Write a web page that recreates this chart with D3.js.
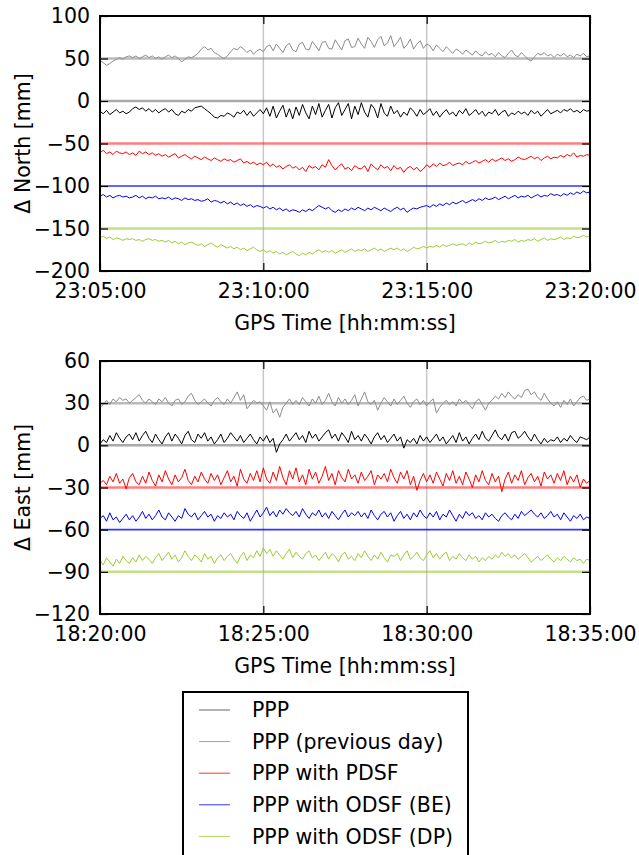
<!DOCTYPE html>
<html>
<head>
<meta charset="utf-8">
<script src="https://cdn.jsdelivr.net/npm/d3@7"></script>
<style>
  body { margin: 0; background: #fff; }
  text { font-family: "DejaVu Sans", sans-serif; fill: #000; }
</style>
</head>
<body>
<script>
const w = 639;
const h = 855;
const fontSize = 20.5;

// series names + colours (legend order)
const seriesNames = ["PPP", "PPP (previous day)", "PPP with PDSF", "PPP with ODSF (BE)", "PPP with ODSF (DP)"];
const seriesColors = ["#000000", "#8c8c8c", "#ff0000", "#0000ff", "#9acd32"];

// each series is shifted by an offset so they don't overlap
const offsetsNorth = [0, 50, -50, -100, -150];
const offsetsEast = [0, 30, -30, -60, -90];

const stepSec = 6; // one value every 6 s, 15 minutes

const yTicksNorth = [-200, -150, -100, -50, 0, 50, 100];
const yTicksEast = [-120, -90, -60, -30, 0, 30, 60];

// North deviations [mm]
const northPPP = [
  -12, -15, -11, -16, -13, -10, -14, -12, -15, -13,
  -9, -7, -10, -8, -12, -9, -13, -10, -14, -11,
  -9, -13, -10, -15, -17, -12, -14, -10, -12, -8,
  -7, -6, -9, -12, -15, -19, -20, -17, -18, -14,
  -16, -19, -13, -15, -11, -17, -12, -18, -14, -10,
  -15, -8, -18, -6, -20, -12, -5, -19, -9, -21,
  -7, -17, -4, -14, -21, -6, -16, -3, -19, -11,
  -4, -20, -8, -2, -17, -10, -3, -21, -6, -16,
  -2, -13, -19, -4, -9, -20, -3, -14, -18, -6,
  -15, -11, -19, -13, -17, -8, -12, -18, -10, -16,
  -13, -9, -17, -12, -19, -14, -10, -16, -13, -18,
  -11, -15, -9, -17, -14, -10, -16, -12, -18, -13,
  -15, -10, -17, -13, -11, -18, -14, -16, -12, -15,
  -13, -17, -11, -15, -12, -18, -14, -10, -15, -13,
  -11, -14, -10, -12, -9, -13, -11, -14, -10, -12,
  -11
];
const northPrev = [
  -2, -5, -8, -6, -3, -1, 1, -1, 2, 3,
  1, 3, 0, 2, 4, 1, 3, 0, 2, -1,
  2, 4, 1, 3, 0, -4, -1, 2, 1, 3,
  6, 11, 14, 10, 12, 7, 5, 2, 0, 3,
  8, 12, 10, 14, 11, 7, 10, 5, 9, 11,
  8, 14, 16, 9, 17, 12, 7, 15, 18, 10,
  8, 17, 19, 11, 10, 20, 15, 9, 19, 20,
  12, 11, 22, 16, 10, 21, 23, 13, 14, 24,
  17, 12, 25, 20, 13, 22, 26, 15, 18, 27,
  14, 19, 25, 12, 16, 23, 11, 17, 21, 12,
  17, 15, 9, 16, 12, 8, 14, 10, 6, 11,
  9, 5, 10, 7, 4, 9, 5, 3, 8, 4,
  6, 2, 7, 3, 1, 6, 10, 4, 2, 7,
  3, -1, -3, 2, 6, 4, 7, 3, 5, 1,
  5, 3, 6, 2, 4, 1, 5, 3, 6, 2,
  3
];
const northPDSF = [
  -11, -8, -12, -10, -13, -9, -11, -12, -10, -13,
  -11, -14, -9, -12, -10, -13, -11, -14, -12, -15,
  -13, -16, -14, -12, -17, -15, -13, -16, -18, -15,
  -17, -19, -16, -18, -20, -17, -19, -21, -18, -20,
  -19, -22, -20, -18, -23, -21, -24, -22, -25, -23,
  -25, -22, -27, -24, -28, -26, -30, -27, -25, -29,
  -27, -31, -28, -33, -26, -29, -27, -31, -25, -28,
  -19, -26, -31, -27, -24, -30, -28, -32, -26, -29,
  -30, -26, -33, -24, -28, -31, -25, -29, -27, -32,
  -26, -30, -28, -34, -29, -27, -31, -28, -33, -30,
  -25, -28, -24, -27, -23, -26, -25, -22, -26, -24,
  -23, -25, -21, -24, -22, -20, -23, -21, -19, -22,
  -18, -21, -19, -17, -20, -18, -21, -19, -16, -18,
  -19, -17, -15, -18, -16, -20, -17, -15, -18, -16,
  -17, -14, -16, -13, -15, -11, -16, -14, -15, -13,
  -14
];
const northBE = [
  -12, -10, -13, -11, -14, -12, -11, -13, -12, -14,
  -13, -11, -14, -12, -15, -13, -14, -12, -15, -14,
  -15, -13, -16, -14, -15, -17, -14, -16, -15, -17,
  -16, -18, -17, -15, -19, -17, -18, -20, -18, -21,
  -19, -22, -20, -23, -21, -24, -22, -25, -23, -24,
  -26, -24, -27, -25, -28, -26, -29, -27, -30, -28,
  -29, -31, -28, -30, -27, -29, -26, -23, -25, -27,
  -25, -29, -31, -28, -30, -27, -29, -26, -28, -25,
  -27, -29, -26, -28, -25, -27, -29, -26, -28, -30,
  -27, -25, -28, -26, -31, -28, -26, -27, -25, -24,
  -23, -25, -22, -24, -21, -23, -20, -22, -19, -21,
  -19, -17, -20, -18, -16, -18, -15, -17, -14, -16,
  -15, -13, -16, -14, -12, -15, -13, -11, -14, -12,
  -13, -11, -14, -12, -10, -13, -11, -12, -9, -11,
  -10, -12, -9, -11, -8, -10, -7, -9, -6, -8,
  -7
];
const northDP = [
  -11, -9, -12, -10, -13, -11, -12, -14, -12, -13,
  -12, -14, -13, -15, -13, -12, -14, -13, -15, -14,
  -16, -14, -17, -15, -18, -16, -19, -17, -16, -18,
  -20, -18, -21, -19, -17, -20, -22, -19, -21, -23,
  -21, -24, -22, -25, -23, -26, -24, -22, -25, -27,
  -25, -28, -26, -29, -27, -30, -28, -31, -29, -27,
  -30, -32, -29, -31, -28, -30, -27, -25, -28, -26,
  -28, -26, -29, -27, -25, -28, -26, -24, -27, -25,
  -26, -24, -27, -25, -23, -26, -24, -27, -25, -23,
  -25, -23, -26, -24, -27, -25, -22, -24, -23, -21,
  -23, -21, -22, -20, -22, -19, -21, -20, -18, -20,
  -19, -18, -20, -17, -19, -16, -18, -17, -15, -17,
  -16, -14, -17, -15, -16, -14, -15, -13, -16, -14,
  -15, -13, -14, -12, -15, -13, -11, -14, -12, -13,
  -12, -10, -13, -11, -12, -9, -11, -10, -8, -10,
  -9
];

// East deviations [mm]
const eastPPP = [
  1, 4, 2, 7, 3, 9, 5, 2, 6, 8,
  4, 9, 3, 7, 10, 5, 2, 8, 4, 1,
  6, 9, 3, 8, 5, 1, 7, 10, 4, 2,
  8, 5, 9, 3, 6, 1, 4, 8, 2, 5,
  9, 6, 3, 7, 2, 5, 8, 4, 1, 6,
  3, 7, 2, 5, -5, 1, 4, 8, 3, 6,
  9, 4, 7, 2, 10, 5, 8, 3, 6, 9,
  11, 5, 8, 3, 9, 6, 2, 10, 4, 7,
  3, 8, 5, 1, 6, 9, 4, 7, 2, 5,
  8, 3, 6, -2, 4, 2, 5, 1, 7, 3,
  6, 2, 5, 8, 3, 6, 1, 4, 7, 2,
  9, 3, 6, 1, 5, 8, 4, 10, 5, 3,
  7, 11, 6, 4, 8, 3, 9, 10, 5, 7,
  10, 6, 3, 8, 4, 1, 5, 2, 4, 3,
  6, 2, 5, 3, 7, 4, 2, 6, 5, 4,
  6
];
const eastPrev = [
  -3, -1, 2, -1, 3, 1, 4, 2, 3, 0,
  2, 4, 6, 2, 0, 3, 1, -1, 3, 1,
  4, 0, -2, 2, 3, -1, 1, 5, 7, 2,
  -1, 1, 3, 0, -2, 2, 4, 1, -1, 3,
  0, 4, 8, 2, 6, -4, -1, 2, 0, 1,
  -2, -5, 1, -7, -4, -10, -3, 0, 3, -1,
  2, -1, 4, 1, -2, 3, 0, 5, -1, 2,
  7, 1, -2, 4, 0, 3, -1, 2, 6, -2,
  3, 8, 1, -1, 2, -5, 0, 4, 1, -2,
  3, -1, 2, 5, 0, -3, 1, 3, -1, 2,
  -2, 1, 3, -7, -3, 0, 2, -1, 1, -2,
  3, 0, 2, -1, -4, 1, 3, -1, -5, 0,
  2, 5, 3, 7, 4, 8, 5, 3, 6, 4,
  9, 10, 6, 8, 4, 2, 7, 3, 0, -2,
  1, -3, 2, -1, 3, -2, 1, 4, 5, 2,
  3
];
const eastPDSF = [
  3, 5, 2, 8, 4, 10, 3, 6, -1, 7,
  10, 4, 2, 8, 3, 11, 5, 1, 9, 4,
  12, 6, 2, 9, 4, 7, 13, 5, 2, 8,
  4, 11, 6, 3, 10, 5, 9, 2, 7, 12,
  4, 8, 1, 13, 6, 3, 10, 5, 12, 4,
  14, 6, 3, 11, 5, 15, 7, 2, 12, 6,
  14, 4, 9, 2, 13, 6, 11, 3, 8, 15,
  5, 10, 2, 12, 7, 4, 13, 6, 9, 3,
  11, 5, 8, 12, 2, 9, 6, 10, 4, 13,
  7, 3, 11, 6, 12, 2, 8, -2, 5, 10,
  4, 9, 3, 11, 6, 1, 10, 5, 12, 3,
  8, 2, 11, 6, 0, 9, 4, 12, 5, 2,
  10, 4, 8, -3, 6, 11, 3, 9, 5, 12,
  2, 7, 10, 4, 8, 1, 11, 6, 9, 3,
  10, 5, 12, 2, 8, 4, 9, 0, 6, 3,
  5
];
const eastBE = [
  8, 10, 6, 12, 7, 9, 5, 8, 11, 7,
  10, 6, 9, 13, 8, 11, 7, 10, 14, 9,
  7, 12, 9, 6, 10, 8, 15, 11, 9, 12,
  7, 10, 13, 9, 11, 6, 10, 8, 12, 9,
  11, 7, 13, 10, 8, 12, 6, 10, 14, 9,
  12, 16, 10, 13, 9, 14, 11, 15, 12, 10,
  13, 9, 15, 11, 8, 12, 10, 14, 9, 12,
  8, 13, 10, 7, 11, 14, 9, 12, 10, 13,
  9, 12, 8, 14, 10, 7, 11, 13, 9, 12,
  6, 10, 13, 8, 11, 7, 12, 9, 14, 10,
  8, 12, 9, 13, 7, 11, 9, 14, 10, 6,
  11, 8, 13, 10, 12, 8, 10, 7, 12, 9,
  11, 8, 6, 10, 12, 9, 7, 11, 8, 13,
  10, 12, 14, 11, 9, 12, 8, 10, 13, 9,
  11, 7, 12, 9, 6, 10, 8, 11, 7, 9,
  8
];
const eastDP = [
  8, 5, 10, 7, 4, 9, 6, 11, 8, 6,
  10, 7, 12, 8, 11, 9, 6, 10, 13, 8,
  11, 14, 9, 12, 7, 10, 15, 11, 8, 12,
  10, 7, 13, 9, 11, 6, 10, 12, 8, 11,
  13, 9, 6, 11, 14, 8, 12, 10, 15, 11,
  17, 13, 16, 11, 15, 12, 9, 13, 16, 10,
  14, 11, 9, 13, 15, 10, 12, 8, 11, 14,
  9, 13, 11, 7, 12, 14, 9, 11, 8, 13,
  10, 15, 11, 8, 12, 9, 14, 10, 7, 12,
  11, 13, 8, 12, 15, 9, 11, 14, 10, 8,
  12, 15, 10, 13, 9, 12, 14, 8, 11, 9,
  13, 10, 8, 12, 9, 11, 7, 10, 8, 11,
  9, 12, 10, 14, 11, 13, 10, 12, 9, 11,
  13, 10, 7, 9, 11, 8, 10, 12, 9, 7,
  10, 8, 11, 9, 7, 10, 8, 9, 6, 9,
  8
];

const svg = d3.select("body").append("svg").attr("width", w).attr("height", h);

const fmtTime = d3.utcFormat("%H:%M:%S");

function drawPanel(cfg) {
  const left = 100, right = 590;
  const x = d3.scaleUtc().domain([cfg.start, new Date(+cfg.start + 15 * 60000)]).range([left, right]);
  const y = d3.scaleLinear().domain(cfg.yDomain).range([cfg.bottom, cfg.top]);
  const g = svg.append("g");

  // vertical grid at inner ticks
  const xTicks = x.ticks(d3.utcMinute.every(5));
  g.selectAll("line.grid")
    .data(xTicks.slice(1, -1))
    .join("line")
    .attr("x1", (d) => x(d)).attr("x2", (d) => x(d))
    .attr("y1", cfg.top).attr("y2", cfg.bottom)
    .attr("stroke", "#c8c8c8").attr("stroke-width", 1.5);

  // reference lines for each shifted series
  g.selectAll("line.ref")
    .data(cfg.offsets)
    .join("line")
    .attr("x1", left).attr("x2", right)
    .attr("y1", (d) => y(d)).attr("y2", (d) => y(d))
    .attr("stroke", (d, i) => i === 0 ? "#707070" : seriesColors[i])
    .attr("stroke-opacity", (d, i) => i === 3 ? 0.8 : (i === 2 ? 0.5 : 0.6))
    .attr("stroke-width", (d, i) => i === 3 ? 1.6 : 2.5);

  const line = d3.line()
    .x((d, i) => x(new Date(+cfg.start + i * stepSec * 1000)))
    .y((d) => y(d));

  // draw order: previous day, PPP, then the filtered ones
  [1, 0, 2, 3, 4].forEach((k) => {
    g.append("path")
      .datum(cfg.series[k].map((v) => v + cfg.offsets[k]))
      .attr("fill", "none")
      .attr("stroke", seriesColors[k])
      .attr("stroke-width", 1)
      .attr("stroke-linejoin", "round")
      .attr("d", line);
  });

  // axes, ticks pointing inward
  g.append("g").attr("transform", `translate(${left},0)`)
    .call(d3.axisLeft(y).tickValues(cfg.yTicks).tickSize(-8).tickPadding(10));
  g.append("g").attr("transform", `translate(${right},0)`)
    .call(d3.axisRight(y).tickValues(cfg.yTicks).tickSize(-8).tickFormat(""));
  g.append("g").attr("transform", `translate(0,${cfg.bottom})`)
    .call(d3.axisBottom(x).tickValues(xTicks).tickSize(-8).tickPadding(12).tickFormat(fmtTime));
  g.append("g").attr("transform", `translate(0,${cfg.top})`)
    .call(d3.axisTop(x).tickValues(xTicks).tickSize(-8).tickFormat(""));
  g.selectAll(".domain").remove();
  g.selectAll(".tick line").attr("stroke", "#000").attr("stroke-width", 1.2);
  g.selectAll(".tick text")
    .attr("font-family", "DejaVu Sans")
    .attr("font-size", fontSize)
    .attr("fill", "#000");

  // frame
  g.append("rect")
    .attr("x", left).attr("y", cfg.top)
    .attr("width", right - left).attr("height", cfg.bottom - cfg.top)
    .attr("fill", "none").attr("stroke", "#000").attr("stroke-width", 2);

  g.append("text")
    .attr("x", (left + right) / 2).attr("y", cfg.bottom + 59)
    .attr("text-anchor", "middle").attr("font-size", fontSize)
    .text("GPS Time [hh:mm:ss]");
  g.append("text")
    .attr("transform", `translate(30,${(cfg.top + cfg.bottom) / 2}) rotate(-90)`)
    .attr("text-anchor", "middle").attr("font-size", fontSize)
    .text(cfg.yLabel);
}

drawPanel({
  start: new Date(Date.UTC(2000, 0, 1, 23, 5, 0)),
  top: 16, bottom: 271,
  yDomain: [-200, 100], yTicks: yTicksNorth,
  offsets: offsetsNorth,
  series: [northPPP, northPrev, northPDSF, northBE, northDP],
  yLabel: "\u0394 North [mm]"
});

drawPanel({
  start: new Date(Date.UTC(2000, 0, 1, 18, 20, 0)),
  top: 361, bottom: 614,
  yDomain: [-120, 60], yTicks: yTicksEast,
  offsets: offsetsEast,
  series: [eastPPP, eastPrev, eastPDSF, eastBE, eastDP],
  yLabel: "\u0394 East [mm]"
});

// legend
const legend = svg.append("g").attr("transform", "translate(183,692)");
legend.append("rect")
  .attr("width", 285).attr("height", 180)
  .attr("fill", "#fff").attr("stroke", "#000").attr("stroke-width", 2);
const item = legend.selectAll("g.item")
  .data(seriesNames)
  .join("g")
  .attr("transform", (d, i) => `translate(0,${18 + i * 31.6})`);
item.append("line")
  .attr("x1", 16).attr("x2", 47)
  .attr("stroke", (d, i) => i === 0 ? "#404040" : seriesColors[i])
  .attr("stroke-opacity", 0.8)
  .attr("stroke-width", 1);
item.append("text")
  .attr("x", 69).attr("dy", "0.35em")
  .attr("font-size", fontSize)
  .text((d) => d);
</script>
</body>
</html>
